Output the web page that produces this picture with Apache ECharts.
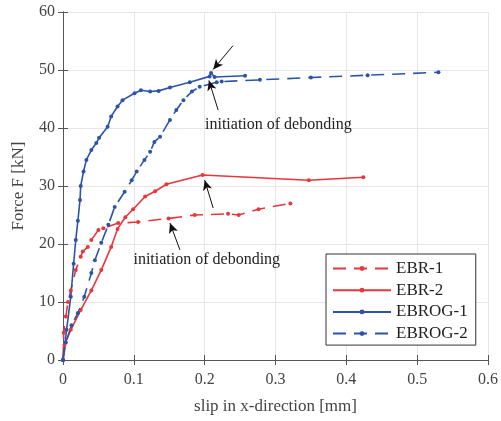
<!DOCTYPE html>
<html>
<head>
<meta charset="utf-8">
<script src="https://cdn.jsdelivr.net/npm/echarts@6/dist/echarts.min.js"></script>
<style>
  html, body { margin: 0; padding: 0; background: #fff; }
  #chart { width: 501px; height: 421px; }
</style>
</head>
<body>
<div id="chart"></div>
<script>
// Load–slip curves of the four bonded specimens
const ebr1X = [0, 0.001, 0.004, 0.007, 0.011, 0.018, 0.025, 0.028, 0.035, 0.040, 0.050, 0.057, 0.078, 0.106, 0.149, 0.186, 0.233, 0.248, 0.276, 0.321];
const ebr1F = [0, 4.7, 7.5, 10.0, 12.0, 15.5, 17.8, 18.7, 19.5, 20.7, 22.4, 22.7, 23.6, 23.8, 24.4, 25.0, 25.2, 25.0, 26.0, 27.0];

const ebr2X = [0, 0.002, 0.011, 0.025, 0.040, 0.054, 0.068, 0.077, 0.088, 0.099, 0.116, 0.130, 0.146, 0.197, 0.347, 0.424];
const ebr2F = [0, 2.6, 5.2, 8.6, 12.0, 15.5, 19.5, 22.6, 24.6, 26.0, 28.2, 29.1, 30.3, 31.9, 31.0, 31.5];

const ebrog1X = [0, 0.005, 0.011, 0.015, 0.018, 0.021, 0.024, 0.025, 0.029, 0.033, 0.040, 0.047, 0.051, 0.063, 0.068, 0.077, 0.084, 0.101, 0.110, 0.123, 0.135, 0.151, 0.179, 0.207, 0.209, 0.214, 0.257];
const ebrog1F = [0, 5.2, 10.9, 16.6, 20.7, 24.0, 27.6, 30.0, 32.5, 34.5, 36.2, 37.4, 38.3, 40.2, 42.0, 43.7, 44.8, 46.0, 46.5, 46.3, 46.4, 47.0, 47.9, 48.9, 49.5, 48.8, 49.0];

const ebrog2X = [0, 0.004, 0.012, 0.021, 0.030, 0.040, 0.045, 0.054, 0.064, 0.073, 0.087, 0.097, 0.104, 0.115, 0.123, 0.129, 0.137, 0.151, 0.160, 0.170, 0.182, 0.193, 0.217, 0.224, 0.278, 0.350, 0.430, 0.530];
const ebrog2F = [0, 3.0, 6.0, 8.1, 10.9, 15.0, 17.2, 20.2, 23.3, 26.4, 29.0, 31.0, 32.5, 34.5, 35.9, 37.6, 38.5, 41.4, 43.1, 44.8, 46.3, 47.1, 47.9, 48.0, 48.3, 48.7, 49.1, 49.6];

const xTicks = [0, 0.1, 0.2, 0.3, 0.4, 0.5, 0.6];
const yTicks = [0, 10, 20, 30, 40, 50, 60];

const noteText = 'initiation of debonding';
// note anchors [x, F] and arrows [[tailX, tailF], [headX, headF]]
const noteUpper = [0.304, 40.6];
const noteLower = [0.203, 17.3];
const arrowsUpper = [
  [[0.240, 54.2], [0.212, 50.1]],
  [[0.219, 43.1], [0.206, 48.2]]
];
const arrowsLower = [
  [[0.212, 26.2], [0.200, 31.0]],
  [[0.165, 19.0], [0.151, 23.6]]
];

const RED = '#e8363b';
const BLUE = '#2b54a8';
const SERIF = '"Liberation Serif", "Times New Roman", serif';

const zip = (xs, ys) => xs.map((x, i) => [x, ys[i]]);

function arrowLines(list) {
  return {
    silent: true,
    symbol: ['none', 'arrow'],
    symbolSize: [7, 10],
    label: { show: false },
    lineStyle: { color: '#111', width: 1, type: 'solid' },
    emphasis: { disabled: true },
    data: list.map(a => [{ coord: a[0] }, { coord: a[1] }])
  };
}

function note(pos) {
  return {
    silent: true,
    symbol: 'circle',
    symbolSize: 0,
    itemStyle: { color: 'transparent' },
    label: {
      show: true, position: 'inside', formatter: noteText,
      fontFamily: SERIF, fontSize: 16, color: '#222'
    },
    data: [{ coord: pos }]
  };
}

function curve(name, xs, ys, color, dashed, extra) {
  return Object.assign({
    name: name,
    type: 'line',
    data: zip(xs, ys),
    symbol: 'circle',
    symbolSize: 4,
    showSymbol: true,
    lineStyle: { color: color, width: 1.6, type: dashed ? [13, 8] : 'solid' },
    itemStyle: { color: color },
    emphasis: { disabled: true },
    animation: false,
    z: 3
  }, extra || {});
}

const axisLabelStyle = { fontFamily: SERIF, fontSize: 16, color: '#444' };
const axisLine = { show: true, lineStyle: { color: '#555', width: 1 } };
const splitLine = { show: true, lineStyle: { color: '#e6e6e6', width: 1 } };

const chart = echarts.init(document.getElementById('chart'), null, { renderer: 'canvas' });
chart.setOption({
  animation: false,
  backgroundColor: '#fff',
  grid: { left: 63, right: 12, top: 12, bottom: 61, containLabel: false },
  xAxis: [{
    type: 'value', min: 0, max: 0.6, interval: 0.1,
    name: 'slip in x-direction [mm]', nameLocation: 'middle', nameGap: 38,
    nameTextStyle: { fontFamily: SERIF, fontSize: 17, color: '#444' },
    axisLine: axisLine,
    axisTick: { show: true, inside: true, length: 5, lineStyle: { color: '#555' } },
    axisLabel: Object.assign({ margin: 12, formatter: v => xTicks.includes(+v.toFixed(1)) ? String(+v.toFixed(1)) : '' }, axisLabelStyle),
    splitLine: splitLine
  }, {
    type: 'value', min: 0, max: 0.6, interval: 0.1, position: 'top',
    axisLine: axisLine,
    axisTick: { show: true, inside: true, length: 5, lineStyle: { color: '#555' } },
    axisLabel: { show: false }, splitLine: { show: false }
  }],
  yAxis: [{
    type: 'value', min: 0, max: 60, interval: 10,
    name: 'Force F [kN]', nameLocation: 'middle', nameGap: 36,
    nameTextStyle: { fontFamily: SERIF, fontSize: 17, color: '#444' },
    axisLine: axisLine,
    axisTick: { show: true, inside: true, length: 5, lineStyle: { color: '#555' } },
    axisLabel: Object.assign({ margin: 8, formatter: v => yTicks.includes(v) ? String(v) : '' }, axisLabelStyle),
    splitLine: splitLine
  }, {
    type: 'value', min: 0, max: 60, interval: 10, position: 'right',
    axisLine: axisLine,
    axisTick: { show: true, inside: true, length: 5, lineStyle: { color: '#555' } },
    axisLabel: { show: false }, splitLine: { show: false }
  }],
  legend: {
    orient: 'vertical',
    left: 326, top: 254,
    padding: [6, 8, 3, 6],
    itemWidth: 58, itemHeight: 6, itemGap: 4.7,
    backgroundColor: '#fff',
    borderColor: '#333', borderWidth: 1,
    textStyle: { fontFamily: SERIF, fontSize: 17, color: '#222' },
    data: ['EBR-1', 'EBR-2', 'EBROG-1', 'EBROG-2']
  },
  series: [
    curve('EBR-1', ebr1X, ebr1F, RED, true, { markLine: arrowLines(arrowsLower), markPoint: note(noteLower) }),
    curve('EBR-2', ebr2X, ebr2F, RED, false),
    curve('EBROG-1', ebrog1X, ebrog1F, BLUE, false),
    curve('EBROG-2', ebrog2X, ebrog2F, BLUE, true, { markLine: arrowLines(arrowsUpper), markPoint: note(noteUpper) })
  ]
});
</script>
</body>
</html>
